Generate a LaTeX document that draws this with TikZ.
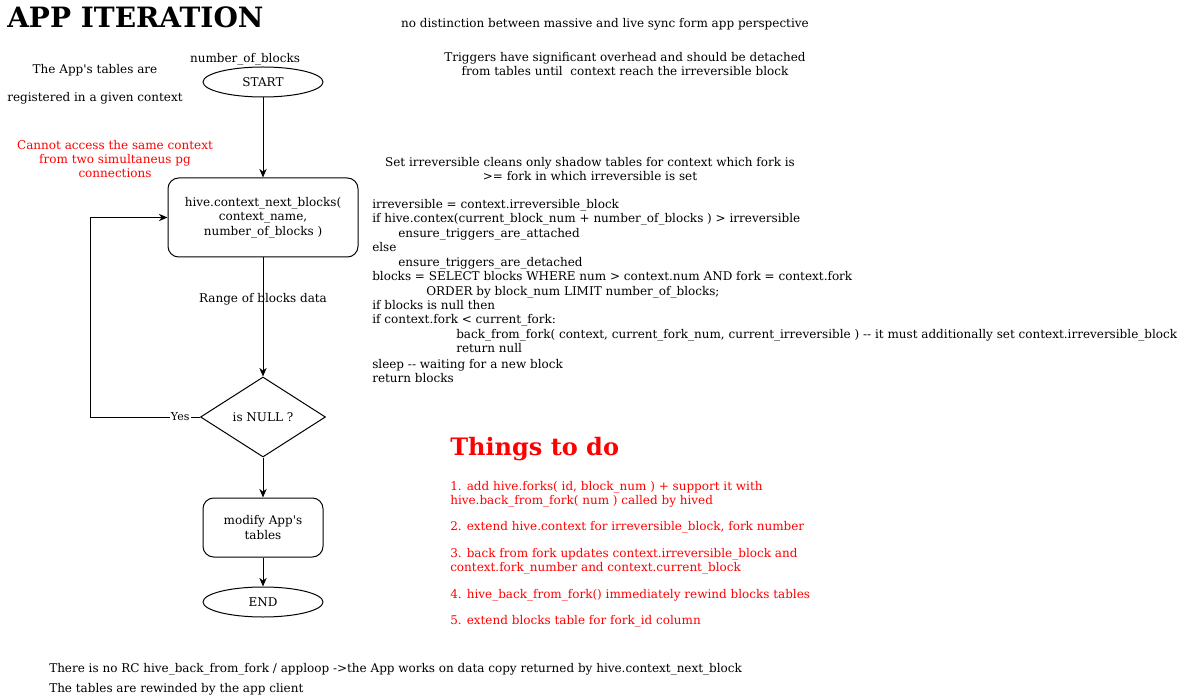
\documentclass[tikz,border=0pt]{standalone}
\usepackage{fontspec}
\setmainfont{DejaVu Serif}
\usetikzlibrary{shapes.geometric,arrows.meta}
\definecolor{todored}{RGB}{255,0,0}
\tikzset{
  base/.style={inner sep=0pt, font=\fontsize{9}{10.8}\selectfont},
  lw/.style={base, anchor=base west},
  ctext/.style={base, align=center},
  flow/.style={draw, line width=0.75pt, inner sep=0pt, font=\fontsize{9}{10.8}\selectfont, align=center},
  term/.style={flow, ellipse, minimum width=90pt, minimum height=22.5pt},
  proc/.style={flow, rectangle, rounded corners=8pt},
  dec/.style={flow, diamond, minimum width=93.75pt, minimum height=60pt, shape aspect=1.5625},
  conn/.style={line width=0.75pt, -{Stealth[length=6.5pt,width=5.5pt]}},
  red/.style={text=todored}
}
\begin{document}
\begin{tikzpicture}[x=0.75pt,y=-0.75pt]
\useasboundingbox (0,0) rectangle (1191,698);

% title
\node[inner sep=0pt, anchor=base west, font=\fontsize{21}{25}\selectfont\bfseries] (title) at (7,28) {APP ITERATION};

% top notes
\node[ctext] (nodist) at (605,24) {no distinction between massive and live sync form app perspective};
\node[ctext] (trig) at (625,64) {Triggers have significant overhead and should be detached\\from tables until\ \ context reach the irreversible block};
\node[ctext] (nob) at (245,59) {number\_of\_blocks};
\node[ctext] (reg1) at (95,70) {The App\textquotesingle s tables are};
\node[ctext] (reg2) at (95,98) {registered in a given context};
\node[ctext, red] (cannot) at (115,159) {Cannot access the same context\\from two simultaneus pg\\connections};

% flow
\node[term] (start) at (263,82) {START};
\node[proc, minimum width=142.5pt, minimum height=59.25pt] (hive) at (263,217.5) {hive.context\_next\_blocks(\\context\_name,\\number\_of\_blocks )};
\node[dec] (isnull) at (263,417) {is NULL ?};
\node[proc, minimum width=90pt, minimum height=44.25pt] (modify) at (263,527.5) {modify App\textquotesingle s\\tables};
\node[term] (end) at (263,602) {END};

\draw[conn] (start) -- (hive);
\draw[conn] (hive) -- (isnull);
\node[ctext] (range) at (263,299) {Range of blocks data};
\draw[conn] (isnull) -- (modify);
\draw[conn] (modify) -- (end);
\coordinate (loopc) at (90,417);
\draw[conn] (isnull.west) -- node[pos=0.18, fill=white, inner sep=1pt, font=\fontsize{8.25}{9}\selectfont] (yes) {Yes} (loopc) |- (hive.west);

% code notes
\node[ctext] (setirr) at (590,169) {Set irreversible cleans only shadow tables for context which fork is\\>= fork in which irreversible is set};
\node[lw] (c1) at (372,209) {irreversible = context.irreversible\_block};
\node[lw] (c2) at (372,223) {if hive.contex(current\_block\_num + number\_of\_blocks ) > irreversible};
\node[lw] (c3) at (398,238) {ensure\_triggers\_are\_attached};
\node[lw] (c4) at (372,252) {else};
\node[lw] (c5) at (398,267) {ensure\_triggers\_are\_detached};
\node[lw] (c6) at (372,281) {blocks = SELECT blocks WHERE num > context.num AND fork = context.fork};
\node[lw] (c7) at (426,296) {ORDER by block\_num LIMIT number\_of\_blocks;};
\node[lw] (c8) at (372,310) {if blocks is null then};
\node[lw] (c9) at (372,324) {if context.fork < current\_fork:};
\node[lw] (c10) at (456,339) {back\_from\_fork( context, current\_fork\_num, current\_irreversible ) -{}- it must additionally set context.irreversible\_block};
\node[lw] (c11) at (456,353) {return null};
\node[lw] (c12) at (372,368) {sleep -{}- waiting for a new block};
\node[lw] (c13) at (372,382) {return blocks};

% things to do
\node[inner sep=0pt, anchor=base west, text=todored, font=\fontsize{18}{22}\selectfont\bfseries] (todo) at (450,455) {Things to do};
\node[lw, red] (t1a) at (450,490) {1. add hive.forks( id, block\_num ) + support it with};
\node[lw, red] (t1b) at (450,504) {hive.back\_from\_fork( num ) called by hived};
\node[lw, red] (t2) at (450,530) {2. extend hive.context for irreversible\_block, fork number};
\node[lw, red] (t3a) at (450,557) {3. back from fork updates context.irreversible\_block and};
\node[lw, red] (t3b) at (450,571) {context.fork\_number and context.current\_block};
\node[lw, red] (t4) at (450,598) {4. hive\_back\_from\_fork() immediately rewind blocks tables};
\node[lw, red] (t5) at (450,624) {5. extend blocks table for fork\_id column};

% bottom notes
\node[lw] (b1) at (49,672) {There is no RC hive\_back\_from\_fork / apploop ->the App works on data copy returned by hive.context\_next\_block};
\node[lw] (b2) at (49,692) {The tables are rewinded by the app client};
\end{tikzpicture}
\end{document}
